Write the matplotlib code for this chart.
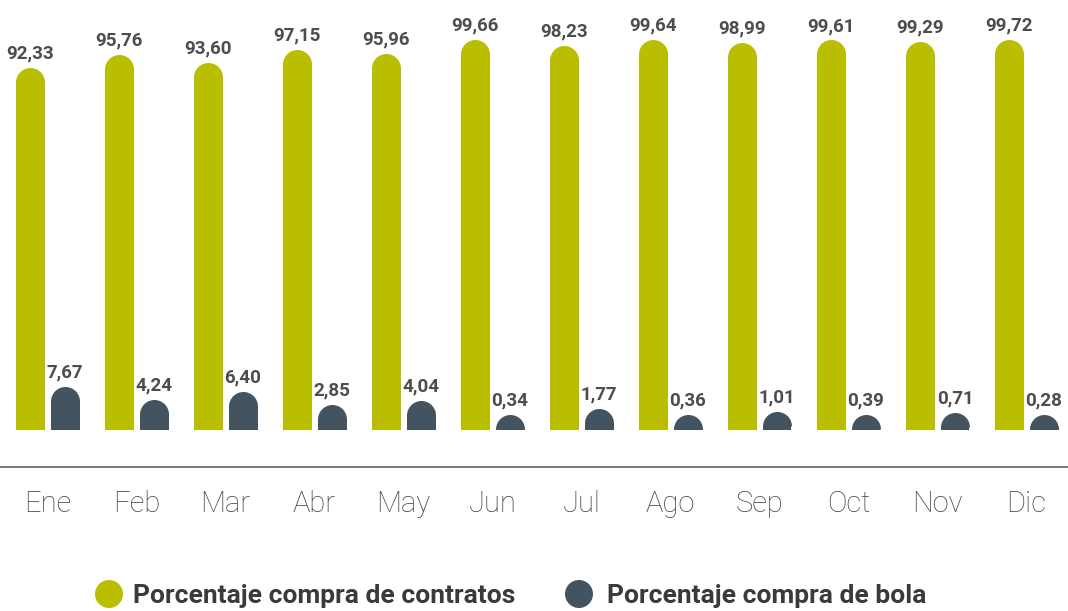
import matplotlib
matplotlib.use("Agg")
import matplotlib.pyplot as plt
import matplotlib.transforms as mtransforms
from matplotlib.patches import Ellipse

months = ["Ene", "Feb", "Mar", "Abr", "May", "Jun", "Jul", "Ago", "Sep", "Oct", "Nov", "Dic"]
contratos = [92.33, 95.76, 93.60, 97.15, 95.96, 99.66, 98.23, 99.64, 98.99, 99.61, 99.29, 99.72]
bola = [7.67, 4.24, 6.40, 2.85, 4.04, 0.34, 1.77, 0.36, 1.01, 0.39, 0.71, 0.28]
series_names = ["Porcentaje compra de contratos", "Porcentaje compra de bola"]
colors = ["#b9bf00", "#435460"]

W, H, DPI = 1068, 611, 100
fig = plt.figure(figsize=(W / DPI, H / DPI), dpi=DPI)
PT = 72.0 / DPI  # points per pixel

FONT = ["Roboto", "DejaVu Sans"]

group_px = 89.0
first_px = 47.5
axis_px = 467.0
base_px = 430.0
scale = 3.77  # px per unit
ax = fig.add_axes([0, 1 - axis_px / H, 1, axis_px / H])
ax.set_xlim(-first_px / group_px, (W - first_px) / group_px)
ax.set_ylim(-(axis_px - base_px) / scale, base_px / scale)

bw_px = 29.0
bw = bw_px / group_px
off = 17.5 / group_px
x = list(range(len(months)))

for vals, col, sgn in [(contratos, colors[0], -1), (bola, colors[1], 1)]:
    xs = [i + sgn * off for i in x]
    ax.bar(xs, vals, width=bw, color=col, linewidth=0)
    ax.plot(xs, vals, linestyle="none", marker="o", fillstyle="top",
            markersize=bw_px * PT, markerfacecolor=col, markerfacecoloralt="none",
            markeredgewidth=0)
    for xi, v in zip(xs, vals):
        ax.annotate(f"{v:.2f}".replace(".", ","), (xi, v),
                    xytext=(0, (bw_px / 2 + 9) * PT), textcoords="offset points",
                    ha="center", va="baseline", fontsize=13.5, fontweight="bold",
                    color="#4d4d4d", family=FONT)

for s in ["top", "left", "right"]:
    ax.spines[s].set_visible(False)
ax.spines["bottom"].set_color("#7a7a7a")
ax.spines["bottom"].set_linewidth(2 * PT)
ax.set_xticks([])
ax.set_yticks([])

trans = mtransforms.blended_transform_factory(ax.transData, fig.transFigure)
for i, m in enumerate(months):
    ax.text(i, 1 - 504 / H, m, transform=trans, ha="center", va="center",
            fontsize=21, fontweight="light", color="#444444", family=FONT)

# legend overlay in pixel coordinates
lax = fig.add_axes([0, 0, 1, 1], facecolor="none")
lax.set_xlim(0, W)
lax.set_ylim(H, 0)
lax.axis("off")
for cx, tx, col, name in [(109, 133, colors[0], series_names[0]),
                          (579, 607, colors[1], series_names[1])]:
    lax.add_patch(Ellipse((cx, 594), 28, 28, color=col, linewidth=0))
    lax.text(tx, 603, name, ha="left", va="baseline", fontsize=19,
             fontweight="bold", color="#3a3a3a", family=FONT)

fig.savefig("out.png", dpi=DPI)
